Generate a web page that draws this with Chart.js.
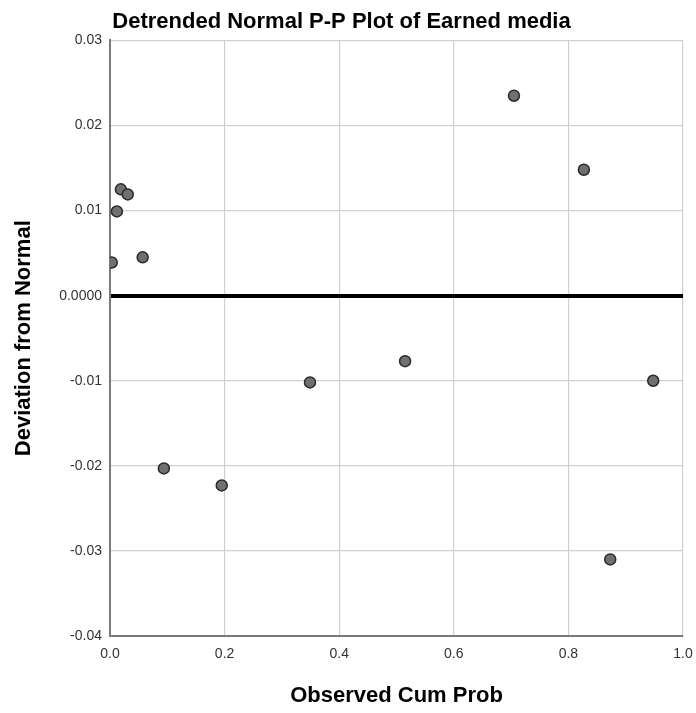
<!DOCTYPE html>
<html lang="en">
<head>
    <meta charset="UTF-8">
    <title>Detrended Normal P-P Plot</title>
    <script src="https://cdn.jsdelivr.net/npm/chart.js"></script>
    <style>
        html, body {
            margin: 0;
            padding: 0;
            background: white;
            overflow: hidden;
        }
        .wrap {
            width: 696px;
            height: 713px;
        }
        canvas {
            display: block;
        }
    </style>
</head>
<body>
    <div class="wrap">
        <canvas id="pp-chart"></canvas>
    </div>

    <script>
        // observed cumulative probability vs. deviation from normal
        const observedCumProb = [0.003, 0.012, 0.019, 0.031, 0.057, 0.094, 0.195, 0.349, 0.515, 0.705, 0.827, 0.873, 0.948];
        const deviation = [0.0039, 0.0099, 0.0125, 0.0119, 0.0045, -0.0203, -0.0223, -0.0102, -0.0077, 0.0235, 0.0148, -0.0310, -0.0100];

        const points = observedCumProb.map((x, i) => ({ x: x, y: deviation[i] }));
        const isZero = v => Math.abs(v) < 1e-9;

        const ctx = document.getElementById('pp-chart').getContext('2d');
        new Chart(ctx, {
            type: 'scatter',
            data: {
                datasets: [{
                    label: 'Earned media',
                    data: points,
                    backgroundColor: '#707070',
                    borderColor: '#2a2a2a',
                    borderWidth: 1.5,
                    pointRadius: 5.5,
                    pointHoverRadius: 5.5
                }]
            },
            options: {
                responsive: true,
                maintainAspectRatio: false,
                animation: false,
                layout: {
                    padding: { left: 0, right: 13, top: 0, bottom: 0 }
                },
                plugins: {
                    legend: { display: false },
                    tooltip: { enabled: false },
                    title: {
                        display: true,
                        text: 'Detrended Normal P-P Plot of Earned media',
                        color: '#000',
                        font: { family: 'Arial, Liberation Sans', size: 22, weight: 'bold' },
                        padding: { top: 9, bottom: 5 }
                    }
                },
                scales: {
                    x: {
                        type: 'linear',
                        min: 0,
                        max: 1,
                        ticks: {
                            stepSize: 0.2,
                            color: '#333',
                            padding: 10,
                            font: { family: 'Arial, Liberation Sans', size: 14 },
                            callback: v => v.toFixed(1)
                        },
                        grid: {
                            color: '#cfcfcf',
                            lineWidth: 1.2,
                            drawTicks: false
                        },
                        border: { color: '#7a7a7a', width: 2 },
                        title: {
                            display: true,
                            text: 'Observed Cum Prob',
                            color: '#000',
                            font: { family: 'Arial, Liberation Sans', size: 22, weight: 'bold' },
                            padding: { top: 0, bottom: 4 }
                        },
                        afterFit: scale => {
                            scale.height = 77;
                            scale.paddingLeft = 0;
                            scale.paddingRight = 0;
                        }
                    },
                    y: {
                        type: 'linear',
                        min: -0.04,
                        max: 0.03,
                        ticks: {
                            stepSize: 0.01,
                            color: '#333',
                            padding: 8,
                            font: { family: 'Arial, Liberation Sans', size: 14 },
                            callback: v => isZero(v) ? '0.0000' : v.toFixed(2)
                        },
                        grid: {
                            color: c => (c.tick && isZero(c.tick.value)) ? '#000' : '#cfcfcf',
                            lineWidth: c => (c.tick && isZero(c.tick.value)) ? 4 : 1.2,
                            drawTicks: false
                        },
                        border: { color: '#7a7a7a', width: 2 },
                        title: {
                            display: true,
                            text: 'Deviation from Normal',
                            color: '#000',
                            font: { family: 'Arial, Liberation Sans', size: 22, weight: 'bold' },
                            padding: { top: 11, bottom: 0 }
                        },
                        afterFit: scale => { scale.width = 110; }
                    }
                }
            }
        });
    </script>
</body>
</html>
